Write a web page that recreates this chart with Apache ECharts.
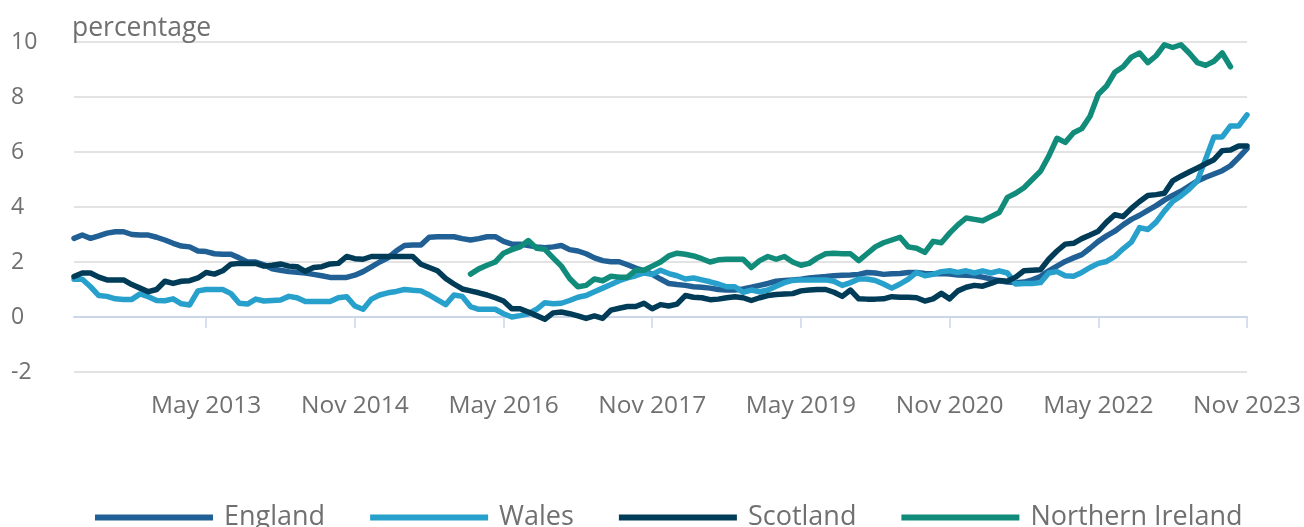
<!DOCTYPE html>
<html>
<head>
<meta charset="utf-8">
<script src="https://cdn.jsdelivr.net/npm/echarts@6/dist/echarts.min.js"></script>
<style>
html,body{margin:0;padding:0;background:#fff;}
#chart{width:1304px;height:527px;}
</style>
</head>
<body>
<div id="chart"></div>
<script>
// Monthly, Jan 2012 - Nov 2023
const monthNames = ['Jan','Feb','Mar','Apr','May','Jun','Jul','Aug','Sep','Oct','Nov','Dec'];
const startYear = 2012, monthCount = 143;
const categories = [];
for (let i = 0; i < monthCount; i++) {
  categories.push(monthNames[i % 12] + ' ' + (startYear + Math.floor(i / 12)));
}
const tickLabels = ['May 2013','Nov 2014','May 2016','Nov 2017','May 2019','Nov 2020','May 2022','Nov 2023'];

const england = [
  2.86,2.98,2.86,2.95,3.05,3.1,3.1,3.0,2.98,2.98,2.9,2.8,2.68,2.58,2.55,2.4,2.38,2.3,2.28,2.28,2.15,2.0,2.0,1.9,
  1.75,1.7,1.65,1.63,1.6,1.55,1.5,1.44,1.44,1.44,1.52,1.65,1.82,2.0,2.15,2.4,2.6,2.62,2.62,2.9,2.92,2.92,2.92,2.85,
  2.8,2.85,2.92,2.92,2.75,2.65,2.65,2.6,2.55,2.52,2.55,2.6,2.45,2.4,2.3,2.15,2.05,2.01,2.01,1.9,1.78,1.68,1.55,
  1.38,1.22,1.18,1.15,1.1,1.08,1.05,1.0,0.98,0.98,1.02,1.08,1.15,1.22,1.3,1.33,1.35,1.37,1.42,1.45,1.47,1.5,1.52,
  1.53,1.55,1.62,1.6,1.55,1.57,1.58,1.62,1.62,1.58,1.57,1.58,1.56,1.53,1.52,1.5,1.45,1.38,1.32,1.27,1.25,1.27,1.35,1.47,
  1.68,1.85,2.02,2.15,2.27,2.5,2.75,2.95,3.12,3.35,3.55,3.7,3.88,4.05,4.25,4.42,4.57,4.76,4.95,5.08,5.2,5.32,5.5,5.8,6.12
];
const wales = [
  1.37,1.37,1.1,0.78,0.75,0.66,0.64,0.64,0.84,0.74,0.6,0.59,0.66,0.48,0.44,0.95,1.0,1.0,1.0,0.85,0.5,0.47,0.65,0.58,
  0.6,0.62,0.75,0.7,0.56,0.56,0.56,0.56,0.7,0.74,0.4,0.28,0.65,0.8,0.88,0.93,1.0,0.97,0.95,0.8,0.62,0.45,0.8,0.75,
  0.38,0.28,0.28,0.28,0.12,0.0,0.05,0.12,0.28,0.52,0.48,0.5,0.6,0.72,0.78,0.92,1.05,1.18,1.32,1.42,1.5,1.6,1.55,
  1.7,1.58,1.5,1.38,1.42,1.35,1.28,1.2,1.1,1.1,0.9,0.98,0.92,0.98,1.12,1.25,1.33,1.35,1.35,1.35,1.35,1.3,1.15,
  1.25,1.38,1.38,1.33,1.2,1.05,1.2,1.38,1.62,1.5,1.55,1.65,1.68,1.62,1.68,1.6,1.68,1.6,1.68,1.6,1.2,1.22,1.22,1.25,
  1.6,1.65,1.5,1.48,1.62,1.8,1.95,2.02,2.2,2.48,2.72,3.25,3.18,3.45,3.85,4.2,4.4,4.65,4.95,5.75,6.55,6.55,6.95,6.95,7.35
];
const scotland = [
  1.47,1.6,1.6,1.45,1.35,1.35,1.35,1.18,1.05,0.92,1.0,1.3,1.22,1.3,1.32,1.42,1.62,1.56,1.68,1.92,1.95,1.95,1.95,1.85,
  1.88,1.93,1.85,1.83,1.66,1.8,1.83,1.93,1.95,2.2,2.12,2.1,2.2,2.2,2.2,2.2,2.2,2.2,1.92,1.8,1.68,1.4,1.2,1.02,
  0.95,0.88,0.8,0.7,0.58,0.3,0.3,0.18,0.05,-0.08,0.15,0.18,0.12,0.04,-0.05,0.04,-0.05,0.25,0.32,0.38,0.38,0.5,0.3,
  0.45,0.4,0.47,0.78,0.72,0.7,0.63,0.65,0.7,0.74,0.7,0.6,0.7,0.78,0.82,0.84,0.85,0.95,0.98,1.0,1.0,0.9,0.75,
  0.98,0.66,0.65,0.65,0.66,0.74,0.72,0.72,0.7,0.58,0.66,0.86,0.66,0.95,1.08,1.15,1.12,1.22,1.33,1.3,1.45,1.68,1.7,1.72,
  2.1,2.4,2.65,2.68,2.85,2.98,3.12,3.45,3.72,3.65,3.95,4.2,4.42,4.45,4.5,4.95,5.12,5.27,5.42,5.57,5.72,6.05,6.07,6.22,6.22
];
// Northern Ireland: Jan 2016 - Sep 2023
const niStart = 'Jan 2016';
const northernIreland = [
  1.56,1.75,1.88,2.0,2.32,2.45,2.55,2.78,2.5,2.46,2.15,1.85,1.4,1.1,1.15,1.38,1.32,1.48,1.45,1.45,1.7,1.7,1.85,
  2.0,2.22,2.32,2.28,2.22,2.12,2.0,2.08,2.1,2.1,2.1,1.8,2.05,2.2,2.1,2.2,2.0,1.88,1.95,2.15,2.3,2.32,2.3,
  2.3,2.05,2.3,2.55,2.7,2.8,2.9,2.55,2.5,2.35,2.75,2.7,3.05,3.35,3.6,3.55,3.5,3.65,3.8,4.35,4.5,4.7,5.0,5.3,
  5.85,6.5,6.35,6.7,6.85,7.3,8.1,8.4,8.9,9.1,9.45,9.6,9.25,9.5,9.9,9.8,9.9,9.6,9.25,9.15,9.3,9.6,9.1
];
const niOffset = categories.indexOf(niStart);
const niData = categories.map((c, i) => {
  const k = i - niOffset;
  return (k >= 0 && k < northernIreland.length) ? northernIreland[k] : null;
});

const seriesNames = ['England','Wales','Scotland','Northern Ireland'];
const seriesColors = ['#206095','#27a0cc','#003c57','#118c7b'];
const seriesData = [england, wales, scotland, niData];

const textColor = '#707070';
const font = '"Open Sans", sans-serif';
const isTick = (idx, val) => tickLabels.indexOf(categories[idx]) >= 0;

const chart = echarts.init(document.getElementById('chart'), null, {renderer: 'canvas'});
chart.setOption({
  animation: false,
  textStyle: {fontFamily: font},
  grid: {left: 74, right: 57, top: 42, bottom: 155, containLabel: false},
  legend: {
    data: seriesNames,
    bottom: -9,
    left: 90,
    icon: 'rect',
    itemWidth: 118,
    itemHeight: 6,
    itemGap: 45,
    textStyle: {color: textColor, fontSize: 27, fontFamily: font, padding: [0,0,0,6]}
  },
  xAxis: {
    type: 'category',
    data: categories,
    boundaryGap: false,
    axisLine: {show: true, lineStyle: {color: '#ccd6eb', width: 2}},
    axisTick: {show: true, interval: isTick, length: 11, lineStyle: {color: '#ccd6eb', width: 1.5}},
    axisLabel: {
      interval: isTick,
      color: textColor,
      fontSize: 24.5,
      fontFamily: font,
      margin: 22,
      showMaxLabel: true
    },
    splitLine: {show: false}
  },
  yAxis: {
    type: 'value',
    min: -2,
    max: 10,
    interval: 2,
    name: 'percentage',
    nameLocation: 'end',
    nameGap: 14,
    nameTextStyle: {color: textColor, fontSize: 26.5, fontFamily: font, align: 'left', verticalAlign: 'middle', padding: [0,0,0,-2]},
    axisLine: {show: false},
    axisTick: {show: false},
    axisLabel: {color: textColor, fontSize: 23, fontFamily: font, align: 'left', margin: 63},
    splitLine: {show: true, lineStyle: {color: '#e3e3e3', width: 2}}
  },
  series: seriesNames.map((name, k) => ({
    name: name,
    type: 'line',
    data: seriesData[k],
    showSymbol: false,
    symbol: 'none',
    connectNulls: false,
    color: seriesColors[k],
    lineStyle: {width: 5.5, color: seriesColors[k], cap: 'round', join: 'round'},
    emphasis: {disabled: true}
  }))
});
</script>
</body>
</html>
